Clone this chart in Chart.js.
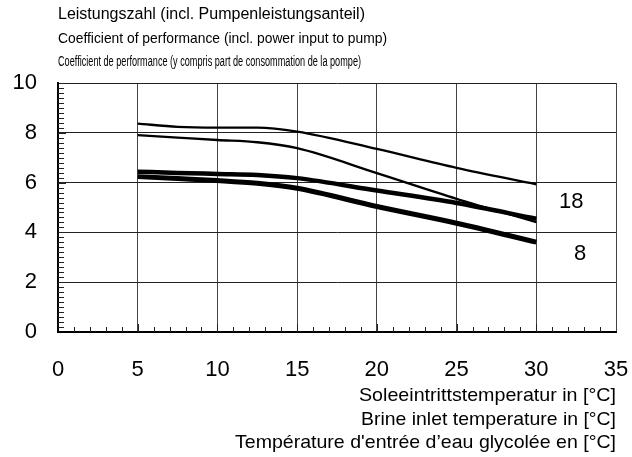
<!DOCTYPE html>
<html>
<head>
<meta charset="utf-8">
<script src="https://cdn.jsdelivr.net/npm/chart.js@4.4.1/dist/chart.umd.min.js"></script>
<style>
  html, body { margin: 0; padding: 0; background: #fff; }
  #wrap { width: 632px; height: 457px; }
</style>
</head>
<body>
<div id="wrap"><canvas id="myChart" width="632" height="457"></canvas></div>
<script>
// Soleeintrittstemperatur (°C)
const temps = [5, 7.5, 10, 12.5, 15, 20, 25, 30];
// Leistungszahl, vier Kurven (oben -> unten)
const copThinTop = [8.37, 8.24, 8.21, 8.21, 8.05, 7.35, 6.59, 5.93];
const copThinLow = [7.91, 7.81, 7.71, 7.62, 7.38, 6.38, 5.35, 4.41];
const copThickTop = [6.44, 6.39, 6.35, 6.31, 6.18, 5.68, 5.18, 4.55];
const copThickLow = [6.24, 6.16, 6.08, 5.97, 5.77, 5.04, 4.37, 3.61];

const titleLines = [
  'Leistungszahl (incl. Pumpenleistungsanteil)',
  'Coefficient of performance (incl. power input to pump)',
  'Coefficient de performance (y compris part de consommation de la pompe)'
];
const xTitleLines = [
  'Soleeintrittstemperatur in [°C]',
  'Brine inlet temperature in [°C]',
  'Température d\'entrée d’eau glycolée en [°C]'
];
const curveLabels = ['18', '8'];
const curveLabelX = [32.2, 32.75];
const curveLabelY = [5.22, 3.14];

const FONT = '"Liberation Sans", Arial, sans-serif';

function toPoints(ys) {
  return temps.map((t, i) => ({ x: t, y: ys[i] }));
}

function makeSet(ys, width) {
  return {
    data: toPoints(ys),
    borderColor: '#000',
    borderWidth: width,
    pointRadius: 0,
    fill: false,
    cubicInterpolationMode: 'monotone',
    borderCapStyle: 'butt'
  };
}

// Text auf eine bestimmte Breite bringen (horizontal skaliert)
function fitText(ctx, text, x, y, width, align) {
  const w = ctx.measureText(text).width;
  const sx = width / w;
  ctx.save();
  ctx.textAlign = 'left';
  const left = align === 'right' ? x - width : x;
  ctx.translate(left, y);
  ctx.scale(sx, 1);
  ctx.fillText(text, 0, 0);
  ctx.restore();
}

// kleine Teilstriche innen an den Achsen
const minorTicks = {
  id: 'minorTicks',
  beforeDatasetsDraw(chart) {
    const { ctx, chartArea, scales: { x, y } } = chart;
    ctx.save();
    ctx.strokeStyle = '#222';
    ctx.lineWidth = 1;
    ctx.beginPath();
    for (let v = 1; v < 35; v++) {
      const px = Math.round(x.getPixelForValue(v)) + 0.5;
      const len = v % 5 === 0 ? 8 : 5;
      ctx.moveTo(px, chartArea.bottom);
      ctx.lineTo(px, chartArea.bottom - len);
    }
    for (let i = 1; i < 50; i++) {
      const py = Math.round(y.getPixelForValue(i * 0.2)) + 0.5;
      const len = i % 10 === 0 ? 8 : 6;
      ctx.moveTo(chartArea.left, py);
      ctx.lineTo(chartArea.left + len, py);
    }
    ctx.stroke();
    ctx.restore();
  }
};

// Titel, Achsentitel und Kurvenbeschriftung
const texts = {
  id: 'texts',
  afterDraw(chart) {
    const { ctx, chartArea, scales: { x, y } } = chart;
    ctx.save();
    ctx.fillStyle = '#000';
    ctx.textBaseline = 'middle';
    ctx.font = '16px ' + FONT;
    fitText(ctx, titleLines[0], chartArea.left, 15, 307, 'left');
    ctx.font = '14.5px ' + FONT;
    fitText(ctx, titleLines[1], chartArea.left, 39, 329, 'left');
    ctx.font = '14px ' + FONT;
    fitText(ctx, titleLines[2], chartArea.left, 62, 303, 'left');

    ctx.font = '19px ' + FONT;
    const xTitleWidths = [257, 255, 381];
    xTitleLines.forEach((line, i) => {
      fitText(ctx, line, chartArea.right, 396 + i * 23.5, xTitleWidths[i], 'right');
    });

    ctx.textAlign = 'center';
    ctx.font = '22px ' + FONT;
    curveLabels.forEach((lbl, i) => {
      ctx.fillText(lbl, x.getPixelForValue(curveLabelX[i]), y.getPixelForValue(curveLabelY[i]));
    });
    ctx.restore();
  }
};

const ctx = document.getElementById('myChart').getContext('2d');
const myChart = new Chart(ctx, {
  type: 'line',
  data: {
    datasets: [
      makeSet(copThinTop, 2.3),
      makeSet(copThinLow, 2.3),
      makeSet(copThickTop, 4.5),
      makeSet(copThickLow, 5)
    ]
  },
  options: {
    responsive: false,
    animation: false,
    layout: { padding: { top: 83, right: 16, left: 0, bottom: 0 } },
    plugins: {
      legend: { display: false },
      tooltip: { enabled: false },
      title: { display: false }
    },
    scales: {
      x: {
        type: 'linear',
        min: 0,
        max: 35,
        ticks: {
          stepSize: 5,
          color: '#000',
          padding: 25,
          font: { family: FONT, size: 22 }
        },
        grid: { color: '#444', lineWidth: 1, drawTicks: false },
        border: { color: '#000', width: 2 },
        afterFit: function(scale) {
          scale.height = 125;
          scale.paddingRight = 0;
          scale.paddingLeft = 0;
        }
      },
      y: {
        min: 0,
        max: 10,
        ticks: {
          stepSize: 2,
          color: '#000',
          padding: 21,
          font: { family: FONT, size: 22 }
        },
        grid: { color: '#222', lineWidth: 1, drawTicks: false },
        border: { color: '#000', width: 2 },
        afterFit: function(scale) {
          scale.width = 58;
          scale.paddingTop = 0;
          scale.paddingBottom = 0;
        }
      }
    }
  },
  plugins: [minorTicks, texts]
});
</script>
</body>
</html>
